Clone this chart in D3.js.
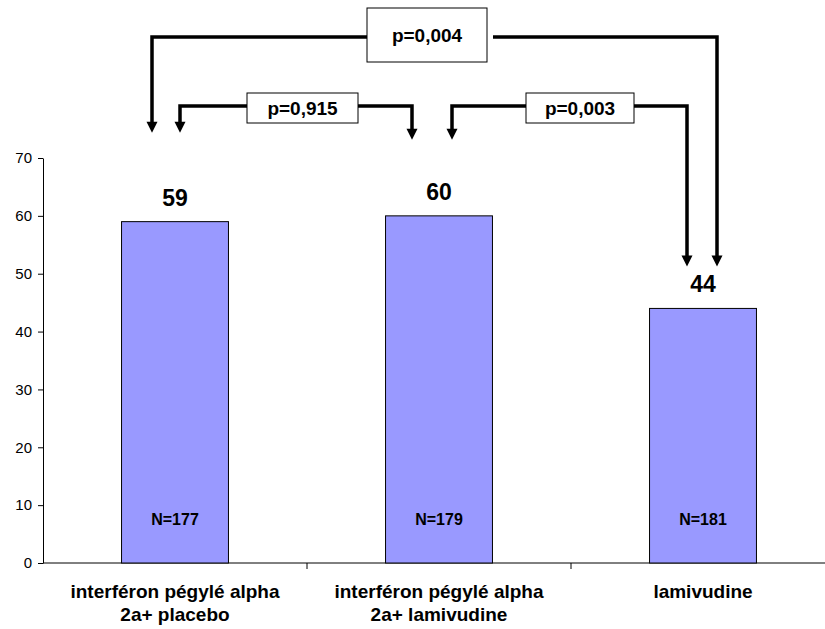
<!DOCTYPE html>
<html><head><meta charset="utf-8">
<script src="https://cdn.jsdelivr.net/npm/d3@7/dist/d3.min.js"></script>
<style>body{margin:0;background:#fff;} text{font-family:"Liberation Sans",Arial,sans-serif;}</style>
</head><body><svg id="c" width="825" height="629"></svg>
<script>
const categories = [["interféron pégylé alpha","2a+ placebo"],["interféron pégylé alpha","2a+ lamivudine"],["lamivudine"]];
const values = [59, 60, 44];
const nLabels = ["N=177","N=179","N=181"];
const yTicks = [0,10,20,30,40,50,60,70];
const comparisons = [
  {from:0, to:2, p:"p=0,004"},
  {from:0, to:1, p:"p=0,915"},
  {from:1, to:2, p:"p=0,003"}
];

const svg = d3.select("#c");
const ids = categories.map((c,i)=>i);
const x = d3.scaleBand().domain(ids).range([43, 835]).paddingInner(0.595).paddingOuter(0.2975);
const y = d3.scaleLinear().domain([0,70]).range([563,158]);

// y axis
const yAxis = svg.append("g").attr("transform","translate(43,0)")
  .call(d3.axisLeft(y).tickValues(yTicks).tickSize(5).tickPadding(6).tickSizeOuter(0));
yAxis.select(".domain").attr("stroke","#000");
yAxis.selectAll(".tick line").attr("stroke","#000");
yAxis.selectAll(".tick text").attr("font-size",15).attr("fill","#000").style("font-family","'Liberation Sans',Arial,sans-serif");

// x axis line + category ticks
svg.append("line").attr("x1",43).attr("x2",825).attr("y1",y(0)).attr("y2",y(0)).attr("stroke","#000");
const step = x.step();
ids.slice(1).forEach(i=>{
  const bx = x(i) - x.paddingInner()*step/2;
  svg.append("line").attr("x1",bx).attr("x2",bx).attr("y1",y(0)).attr("y2",y(0)+6).attr("stroke","#000");
});

// bars
svg.selectAll("rect.bar").data(values).join("rect").attr("class","bar")
  .attr("x",(d,i)=>x(i)).attr("width",x.bandwidth())
  .attr("y",d=>y(d)).attr("height",d=>y(0)-y(d))
  .attr("fill","#9999ff").attr("stroke","#000").attr("stroke-width",1);

// value labels
svg.selectAll("text.val").data(values).join("text").attr("class","val")
  .attr("x",(d,i)=>x(i)+x.bandwidth()/2).attr("y",d=>y(d)-16)
  .attr("text-anchor","middle").attr("font-size",23).attr("font-weight","bold").text(d=>d);

// N labels
svg.selectAll("text.n").data(nLabels).join("text").attr("class","n")
  .attr("x",(d,i)=>x(i)+x.bandwidth()/2).attr("y",y(0)-38)
  .attr("text-anchor","middle").attr("font-size",16).attr("font-weight","bold").text(d=>d);

// category labels
categories.forEach((lines,i)=>{
  const t = svg.append("text").attr("x",x(i)+x.bandwidth()/2).attr("y",y(0)+35)
    .attr("text-anchor","middle").attr("font-size",19).attr("font-weight","bold");
  lines.forEach((l,j)=>t.append("tspan").attr("x",x(i)+x.bandwidth()/2).attr("dy",j?23:0).text(l));
});

// brackets
const cx = i => x(i)+x.bandwidth()/2;
function arrowHead(px, py){
  svg.append("path").attr("d",`M${px-5.5},${py-11}L${px+5.5},${py-11}L${px},${py}Z`).attr("fill","#000");
}
function bracket(x1, x2, ly, tip1, tip2, box, label){
  const g = svg.append("g");
  const sw = 3.5;
  g.append("path").attr("d",`M${x1},${tip1-10}V${ly}H${box[0]}`).attr("fill","none").attr("stroke","#000").attr("stroke-width",sw);
  g.append("path").attr("d",`M${box[0]+box[2]+box[4]},${ly}H${x2}V${tip2-10}`).attr("fill","none").attr("stroke","#000").attr("stroke-width",sw);
  arrowHead(x1, tip1); arrowHead(x2, tip2);
  g.append("rect").attr("x",box[0]).attr("y",box[1]).attr("width",box[2]).attr("height",box[3]).attr("fill","#fff").attr("stroke","#000").attr("stroke-width",1);
  g.append("text").attr("x",box[0]+box[2]/2).attr("y",box[1]+box[3]/2+7).attr("text-anchor","middle")
    .attr("font-size",19).attr("font-weight","bold").text(label);
}
// p=0,004 : bar0 <-> bar2
bracket(cx(0)-23, cx(2)+14, 37, y(values[0])-89, y(values[2])-42, [367, 8, 120, 54, 6], comparisons[0].p);
// p=0,915 : bar0 <-> bar1
bracket(cx(0)+5, cx(1)-27, 106, y(values[0])-89, y(values[1])-76, [247, 93, 111, 30, 0], comparisons[1].p);
// p=0,003 : bar1 <-> bar2
bracket(cx(1)+13, cx(2)-16, 106, y(values[1])-76, y(values[2])-42, [526, 93, 108, 30, 0], comparisons[2].p);
</script></body></html>
